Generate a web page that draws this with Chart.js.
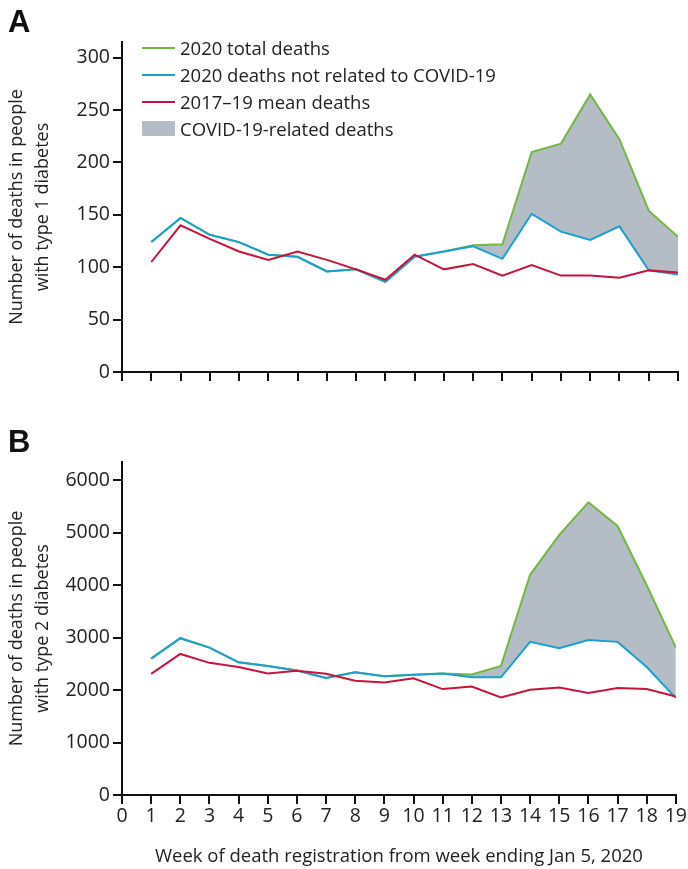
<!DOCTYPE html>
<html>
<head>
<meta charset="utf-8">
<script src="https://cdn.jsdelivr.net/npm/chart.js@4"></script>
<style>
  html, body { margin: 0; padding: 0; background: #fff; }
  body { width: 688px; height: 869px; position: relative; overflow: hidden; font-family: "Open Sans", sans-serif; color: #222; }
  .panel { position: absolute; left: 0; }
  .letter { position: absolute; left: 8px; font-family: "Liberation Sans", Arial, sans-serif; font-weight: bold; font-size: 31px; line-height: 31px; color: #111; }
  #legend { position: absolute; left: 142px; top: 34px; font-size: 18.5px; }
  .row { position: relative; height: 27px; line-height: 27px; white-space: nowrap; }
  .sw { position: absolute; left: 0; width: 33px; }
  .txt { position: absolute; left: 38px; top: 0; }
</style>
</head>
<body>
<div class="panel" style="top:0;width:688px;height:400px"><canvas id="cA" width="688" height="400"></canvas></div>
<div class="panel" style="top:430px;width:688px;height:439px"><canvas id="cB" width="688" height="439"></canvas></div>
<div class="letter" style="top:6px">A</div>
<div class="letter" style="top:426px">B</div>
<div id="legend"></div>
<script>
// ---- data ----
const weeks = [1, 2, 3, 4, 5, 6, 7, 8, 9, 10, 11, 12, 13, 14, 15, 16, 17, 18, 19];
const xTickLabels = ['0','1','2','3','4','5','6','7','8','9','10','11','12','13','14','15','16','17','18','19'];

// Panel A: type 1 diabetes
const t1Total     = [124, 147, 131, 124, 112, 110, 96, 98, 86, 110, 115, 121, 122, 210, 218, 265, 222, 154, 129];
const t1NonCovid  = [124, 147, 131, 124, 112, 110, 96, 98, 86, 110, 115, 120, 108, 151, 134, 126, 139, 97, 93];
const t1Mean      = [105, 140, 127, 115, 107, 115, 107, 98, 88, 112, 98, 103, 92, 102, 92, 92, 90, 97, 95];
const yTicksA     = [0, 50, 100, 150, 200, 250, 300];

// Panel B: type 2 diabetes
const t2Total     = [2600, 2990, 2810, 2530, 2460, 2375, 2230, 2340, 2265, 2295, 2315, 2300, 2460, 4200, 4960, 5580, 5130, 4000, 2810];
const t2NonCovid  = [2600, 2990, 2810, 2530, 2460, 2375, 2230, 2340, 2265, 2295, 2315, 2245, 2245, 2920, 2800, 2955, 2920, 2440, 1850];
const t2Mean      = [2310, 2690, 2520, 2440, 2315, 2370, 2310, 2180, 2145, 2225, 2020, 2070, 1860, 2005, 2050, 1945, 2040, 2020, 1880];
const yTicksB     = [0, 1000, 2000, 3000, 4000, 5000, 6000];

const seriesNames = ['2020 total deaths', '2020 deaths not related to COVID-19', '2017\u201319 mean deaths', 'COVID-19-related deaths'];
const seriesColors = ['#72b843', '#1aa0d2', '#c8143c', '#b4bcc5'];

// ---- helpers ----
const FONT = '"Open Sans", sans-serif';
const INK = '#222';
function pts(arr) { return weeks.map((w, i) => ({ x: w, y: arr[i] })); }

function makeChart(id, total, nonCovid, mean, yTicks, yMax, yTitle, opts) {
  const ctx = document.getElementById(id);
  return new Chart(ctx, {
    type: 'line',
    data: {
      datasets: [
        { label: seriesNames[0], data: pts(total), borderColor: seriesColors[0], backgroundColor: seriesColors[3],
          fill: { target: 1 }, borderWidth: 2, pointRadius: 0, tension: 0, order: 3 },
        { label: seriesNames[1], data: pts(nonCovid), borderColor: seriesColors[1], borderWidth: 2, pointRadius: 0, tension: 0, fill: false, order: 2 },
        { label: seriesNames[2], data: pts(mean), borderColor: seriesColors[2], borderWidth: 2, pointRadius: 0, tension: 0, fill: false, order: 1 }
      ]
    },
    options: {
      responsive: false,
      animation: false,
      events: [],
      layout: { padding: { top: opts.padTop, right: 10, left: 0, bottom: 0 } },
      plugins: { legend: { display: false }, tooltip: { enabled: false } },
      scales: {
        x: {
          type: 'linear', min: 0, max: 19,
          afterFit: s => { s.height = opts.xHeight; },
          afterBuildTicks: s => { s.ticks = xTickLabels.map(v => ({ value: Number(v) })); },
          ticks: { stepSize: 1, autoSkip: false, maxRotation: 0, padding: 1, color: INK,
                   font: { family: FONT, size: 19.5 },
                   callback: v => opts.showXLabels ? xTickLabels[v] : '' },
          grid: { display: true, drawOnChartArea: false, drawTicks: true, tickLength: 9, color: '#111', lineWidth: 2 },
          border: { display: true, color: '#111', width: 2 },
          title: opts.xTitle ? { display: true, text: opts.xTitle, color: INK, font: { family: FONT, size: 18.5, lineHeight: 1.2 }, padding: { top: 0, bottom: 1 } } : { display: false }
        },
        y: {
          type: 'linear', min: 0, max: yMax,
          afterFit: s => { s.width = 122; },
          afterBuildTicks: s => { s.ticks = yTicks.map(v => ({ value: v })); },
          ticks: { padding: 3, color: INK, font: { family: FONT, size: 19.5 }, callback: v => String(v) },
          grid: { display: true, drawOnChartArea: false, drawTicks: true, tickLength: 9, color: '#111', lineWidth: 2 },
          border: { display: true, color: '#111', width: 2 },
          title: { display: true, text: yTitle, color: INK, font: { family: FONT, size: 18, lineHeight: 1.45 }, padding: { top: 4, bottom: 0 } }
        }
      }
    }
  });
}

makeChart('cA', t1Total, t1NonCovid, t1Mean, yTicksA, 315,
  ['Number of deaths in people', 'with type 1 diabetes'],
  { padTop: 42, xHeight: 28, showXLabels: false, xTitle: null });

makeChart('cB', t2Total, t2NonCovid, t2Mean, yTicksB, 6350,
  ['Number of deaths in people', 'with type 2 diabetes'],
  { padTop: 32, xHeight: 74, showXLabels: true, xTitle: 'Week of death registration from week ending Jan 5, 2020' });

// ---- legend (HTML) ----
const lg = document.getElementById('legend');
seriesNames.forEach((name, i) => {
  const row = document.createElement('div');
  row.className = 'row';
  const sw = document.createElement('div');
  sw.className = 'sw';
  if (i < 3) { sw.style.top = '13px'; sw.style.height = '2px'; }
  else { sw.style.top = '6px'; sw.style.height = '15px'; }
  sw.style.background = seriesColors[i];
  const t = document.createElement('div');
  t.className = 'txt';
  t.textContent = name;
  row.appendChild(sw); row.appendChild(t);
  lg.appendChild(row);
});
</script>
</body>
</html>
